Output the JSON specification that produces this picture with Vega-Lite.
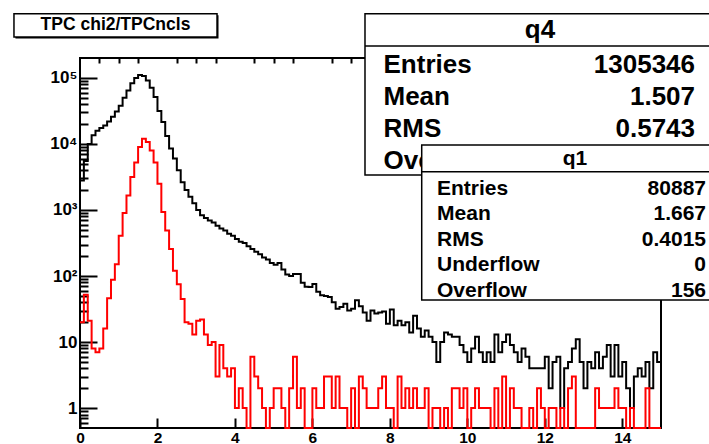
{
  "$schema": "https://vega.github.io/schema/vega-lite/v6.json",
  "width": 581,
  "height": 370,
  "autosize": {"type": "none"},
  "padding": {"left": 80, "top": 58, "right": 48, "bottom": 16},
  "background": "white",
  "config": {
    "view": {"stroke": "black", "strokeWidth": 2},
    "font": "Liberation Sans",
    "text": {"font": "Liberation Sans", "fontWeight": "bold", "color": "black"}
  },
  "layer": [
    {
      "data": {
        "values": [
          {"lo":0,"hi":0.1,"q4":2800,"q1":20},{"lo":0.1,"hi":0.2,"q4":5500,"q1":52},{"lo":0.2,"hi":0.3,"q4":10000,"q1":21},{"lo":0.3,"hi":0.4,"q4":13500,"q1":8},{"lo":0.4,"hi":0.5,"q4":15800,"q1":7},
          {"lo":0.5,"hi":0.6,"q4":17400,"q1":8},{"lo":0.6,"hi":0.7,"q4":19000,"q1":16},{"lo":0.7,"hi":0.8,"q4":21900,"q1":46},{"lo":0.8,"hi":0.9,"q4":25700,"q1":88},{"lo":0.9,"hi":1,"q4":30900,"q1":151},
          {"lo":1,"hi":1.1,"q4":38000,"q1":408},{"lo":1.1,"hi":1.2,"q4":50100,"q1":900},{"lo":1.2,"hi":1.3,"q4":64600,"q1":1660},{"lo":1.3,"hi":1.4,"q4":83200,"q1":3160},{"lo":1.4,"hi":1.5,"q4":100000,"q1":5250},
          {"lo":1.5,"hi":1.6,"q4":111000,"q1":9000},{"lo":1.6,"hi":1.7,"q4":107000,"q1":12000},{"lo":1.7,"hi":1.8,"q4":91200,"q1":10700},{"lo":1.8,"hi":1.9,"q4":70800,"q1":7940},{"lo":1.9,"hi":2,"q4":51300,"q1":5250},
          {"lo":2,"hi":2.1,"q4":31600,"q1":2500},{"lo":2.1,"hi":2.2,"q4":21400,"q1":930},{"lo":2.2,"hi":2.3,"q4":13200,"q1":490},{"lo":2.3,"hi":2.4,"q4":8510,"q1":257},{"lo":2.4,"hi":2.5,"q4":6030,"q1":120},
          {"lo":2.5,"hi":2.6,"q4":3980,"q1":75},{"lo":2.6,"hi":2.7,"q4":2630,"q1":45},{"lo":2.7,"hi":2.8,"q4":2000,"q1":20},{"lo":2.8,"hi":2.9,"q4":1580,"q1":19},{"lo":2.9,"hi":3,"q4":1260,"q1":13},
          {"lo":3,"hi":3.1,"q4":1000,"q1":21},{"lo":3.1,"hi":3.2,"q4":832,"q1":22},{"lo":3.2,"hi":3.3,"q4":759,"q1":13},{"lo":3.3,"hi":3.4,"q4":692,"q1":9},{"lo":3.4,"hi":3.5,"q4":646,"q1":10},
          {"lo":3.5,"hi":3.6,"q4":575,"q1":3},{"lo":3.6,"hi":3.7,"q4":525,"q1":9},{"lo":3.7,"hi":3.8,"q4":490,"q1":4},{"lo":3.8,"hi":3.9,"q4":437,"q1":3},{"lo":3.9,"hi":4,"q4":407,"q1":4},
          {"lo":4,"hi":4.1,"q4":363,"q1":1},{"lo":4.1,"hi":4.2,"q4":331,"q1":2},{"lo":4.2,"hi":4.3,"q4":316,"q1":1},{"lo":4.3,"hi":4.4,"q4":282,"q1":0},{"lo":4.4,"hi":4.5,"q4":257,"q1":6},
          {"lo":4.5,"hi":4.6,"q4":234,"q1":3},{"lo":4.6,"hi":4.7,"q4":214,"q1":2},{"lo":4.7,"hi":4.8,"q4":191,"q1":1},{"lo":4.8,"hi":4.9,"q4":178,"q1":0},{"lo":4.9,"hi":5,"q4":158,"q1":1},
          {"lo":5,"hi":5.1,"q4":148,"q1":2},{"lo":5.1,"hi":5.2,"q4":158,"q1":2},{"lo":5.2,"hi":5.3,"q4":126,"q1":1},{"lo":5.3,"hi":5.4,"q4":105,"q1":0},{"lo":5.4,"hi":5.5,"q4":100,"q1":2},
          {"lo":5.5,"hi":5.6,"q4":107,"q1":6},{"lo":5.6,"hi":5.7,"q4":107,"q1":1},{"lo":5.7,"hi":5.8,"q4":79,"q1":2},{"lo":5.8,"hi":5.9,"q4":69,"q1":0},{"lo":5.9,"hi":6,"q4":68,"q1":0},
          {"lo":6,"hi":6.1,"q4":76,"q1":2},{"lo":6.1,"hi":6.2,"q4":58,"q1":1},{"lo":6.2,"hi":6.3,"q4":51,"q1":1},{"lo":6.3,"hi":6.4,"q4":50,"q1":3},{"lo":6.4,"hi":6.5,"q4":48,"q1":3},
          {"lo":6.5,"hi":6.6,"q4":40,"q1":1},{"lo":6.6,"hi":6.7,"q4":32,"q1":3},{"lo":6.7,"hi":6.8,"q4":34,"q1":1},{"lo":6.8,"hi":6.9,"q4":38,"q1":1},{"lo":6.9,"hi":7,"q4":30,"q1":0},
          {"lo":7,"hi":7.1,"q4":32,"q1":2},{"lo":7.1,"hi":7.2,"q4":43,"q1":0},{"lo":7.2,"hi":7.3,"q4":35,"q1":3},{"lo":7.3,"hi":7.4,"q4":28,"q1":2},{"lo":7.4,"hi":7.5,"q4":21,"q1":1},
          {"lo":7.5,"hi":7.6,"q4":30,"q1":1},{"lo":7.6,"hi":7.7,"q4":27,"q1":1},{"lo":7.7,"hi":7.8,"q4":28,"q1":2},{"lo":7.8,"hi":7.9,"q4":29,"q1":3},{"lo":7.9,"hi":8,"q4":19,"q1":1},
          {"lo":8,"hi":8.1,"q4":31,"q1":1},{"lo":8.1,"hi":8.2,"q4":18,"q1":0},{"lo":8.2,"hi":8.3,"q4":21,"q1":3},{"lo":8.3,"hi":8.4,"q4":18,"q1":1},{"lo":8.4,"hi":8.5,"q4":20,"q1":2},
          {"lo":8.5,"hi":8.6,"q4":14,"q1":1},{"lo":8.6,"hi":8.7,"q4":25,"q1":2},{"lo":8.7,"hi":8.8,"q4":16,"q1":1},{"lo":8.8,"hi":8.9,"q4":12,"q1":1},{"lo":8.9,"hi":9,"q4":15,"q1":2},
          {"lo":9,"hi":9.1,"q4":12,"q1":0},{"lo":9.1,"hi":9.2,"q4":10,"q1":1},{"lo":9.2,"hi":9.3,"q4":5,"q1":1},{"lo":9.3,"hi":9.4,"q4":10,"q1":0},{"lo":9.4,"hi":9.5,"q4":14,"q1":1},
          {"lo":9.5,"hi":9.6,"q4":13,"q1":0},{"lo":9.6,"hi":9.7,"q4":12,"q1":2},{"lo":9.7,"hi":9.8,"q4":12,"q1":2},{"lo":9.8,"hi":9.9,"q4":9,"q1":1},{"lo":9.9,"hi":10,"q4":7,"q1":2},
          {"lo":10,"hi":10.1,"q4":5,"q1":0},{"lo":10.1,"hi":10.2,"q4":8,"q1":1},{"lo":10.2,"hi":10.3,"q4":12,"q1":2},{"lo":10.3,"hi":10.4,"q4":7,"q1":1},{"lo":10.4,"hi":10.5,"q4":5,"q1":1},
          {"lo":10.5,"hi":10.6,"q4":7,"q1":1},{"lo":10.6,"hi":10.7,"q4":5,"q1":0},{"lo":10.7,"hi":10.8,"q4":13,"q1":2},{"lo":10.8,"hi":10.9,"q4":7,"q1":0},{"lo":10.9,"hi":11,"q4":10,"q1":3},
          {"lo":11,"hi":11.1,"q4":13,"q1":0},{"lo":11.1,"hi":11.2,"q4":9,"q1":2},{"lo":11.2,"hi":11.3,"q4":7,"q1":1},{"lo":11.3,"hi":11.4,"q4":5,"q1":1},{"lo":11.4,"hi":11.5,"q4":8,"q1":0},
          {"lo":11.5,"hi":11.6,"q4":6,"q1":0},{"lo":11.6,"hi":11.7,"q4":4,"q1":1},{"lo":11.7,"hi":11.8,"q4":4,"q1":0},{"lo":11.8,"hi":11.9,"q4":4,"q1":2},{"lo":11.9,"hi":12,"q4":4,"q1":1},
          {"lo":12,"hi":12.1,"q4":6,"q1":0},{"lo":12.1,"hi":12.2,"q4":2,"q1":1},{"lo":12.2,"hi":12.3,"q4":5,"q1":1},{"lo":12.3,"hi":12.4,"q4":6,"q1":0},{"lo":12.4,"hi":12.5,"q4":1,"q1":1},
          {"lo":12.5,"hi":12.6,"q4":4,"q1":0},{"lo":12.6,"hi":12.7,"q4":5,"q1":2},{"lo":12.7,"hi":12.8,"q4":8,"q1":3},{"lo":12.8,"hi":12.9,"q4":11,"q1":0},{"lo":12.9,"hi":13,"q4":5,"q1":0},
          {"lo":13,"hi":13.1,"q4":2,"q1":0},{"lo":13.1,"hi":13.2,"q4":5,"q1":0},{"lo":13.2,"hi":13.3,"q4":4,"q1":0},{"lo":13.3,"hi":13.4,"q4":7,"q1":2},{"lo":13.4,"hi":13.5,"q4":4,"q1":1},
          {"lo":13.5,"hi":13.6,"q4":6,"q1":1},{"lo":13.6,"hi":13.7,"q4":9,"q1":1},{"lo":13.7,"hi":13.8,"q4":3,"q1":1},{"lo":13.8,"hi":13.9,"q4":9,"q1":2},{"lo":13.9,"hi":14,"q4":3,"q1":1},
          {"lo":14,"hi":14.1,"q4":5,"q1":1},{"lo":14.1,"hi":14.2,"q4":2,"q1":0},{"lo":14.2,"hi":14.3,"q4":1,"q1":1},{"lo":14.3,"hi":14.4,"q4":3,"q1":0},{"lo":14.4,"hi":14.5,"q4":4,"q1":0},
          {"lo":14.5,"hi":14.6,"q4":3,"q1":0},{"lo":14.6,"hi":14.7,"q4":5,"q1":2},{"lo":14.7,"hi":14.8,"q4":2,"q1":0},{"lo":14.8,"hi":14.9,"q4":7,"q1":0},{"lo":14.9,"hi":15,"q4":5,"q1":0}
        ]
      },
      "transform": [{"fold": ["lo", "hi"], "as": ["edge", "x"]}],
      "layer": [
        {
          "mark": {"type": "line", "color": "black", "strokeWidth": 2, "invalid": "show"},
          "encoding": {
            "x": {
              "field": "x", "type": "quantitative",
              "scale": {"domain": [0, 15], "nice": false, "zero": false},
              "axis": {
                "values": [0, 2, 4, 6, 8, 10, 12, 14],
                "title": null, "grid": false, "domain": false,
                "tickSize": -10, "tickWidth": 2, "tickColor": "black",
                "labelFont": "Liberation Sans", "labelFontWeight": "bold", "labelFontSize": 15.5,
                "labelColor": "black", "labelPadding": 12, "labelFlush": false, "labelOverlap": false
              }
            },
            "y": {
              "field": "q4", "type": "quantitative",
              "scale": {"type": "log", "domain": [0.5, 200000], "nice": false, "clamp": true},
              "axis": {
                "values": [1, 10, 100, 1000, 10000, 100000],
                "labelExpr": "datum.value < 5 ? '1 ' : datum.value < 50 ? '10 ' : '10' + ['', '', '²', '³', '⁴', '⁵'][round(log(datum.value) / LN10)]",
                "title": null, "grid": false, "domain": false,
                "tickSize": -17, "tickWidth": 2, "tickColor": "black",
                "labelFont": "Liberation Sans", "labelFontWeight": "bold", "labelFontSize": 17,
                "labelColor": "black", "labelPadding": 20, "labelBaseline": "middle", "labelFlush": false, "labelOverlap": false
              }
            },
            "order": [{"field": "x", "type": "quantitative"}, {"field": "edge", "type": "nominal"}]
          }
        },
        {
          "mark": {"type": "line", "color": "#ff0000", "strokeWidth": 2, "invalid": "show"},
          "encoding": {
            "x": {
              "field": "x", "type": "quantitative",
              "axis": {
                "values": [0.5, 1, 1.5, 2.5, 3, 3.5, 4.5, 5, 5.5, 6.5, 7, 7.5, 8.5, 9, 9.5, 10.5, 11, 11.5, 12.5, 13, 13.5, 14.5],
                "title": null, "grid": false, "domain": false, "labels": false,
                "tickSize": -5, "tickWidth": 2, "tickColor": "black"
              }
            },
            "y": {
              "field": "q1", "type": "quantitative",
              "axis": {
                "values": [0.6, 0.7, 0.8, 0.9, 2, 3, 4, 5, 6, 7, 8, 9, 20, 30, 40, 50, 60, 70, 80, 90, 200, 300, 400, 500, 600, 700, 800, 900, 2000, 3000, 4000, 5000, 6000, 7000, 8000, 9000, 20000, 30000, 40000, 50000, 60000, 70000, 80000, 90000],
                "orient": "left",
                "title": null, "grid": false, "domain": false, "labels": false,
                "tickSize": -8, "tickWidth": 2, "tickColor": "black"
              }
            },
            "order": [{"field": "x", "type": "quantitative"}, {"field": "edge", "type": "nominal"}]
          }
        }
      ],
      "resolve": {"axis": {"x": "independent", "y": "independent"}}
    },
    {
      "data": {"values": [{}]},
      "layer": [
        {
          "mark": {"type": "rect", "fill": "black"},
          "encoding": {
            "x": {"datum": 0.0218, "type": "quantitative", "scale": {"domain": [0.112835, 0.932299], "nice": false, "zero": false}, "axis": null},
            "x2": {"datum": 0.3082},
            "y": {"datum": 0.9657, "type": "quantitative", "scale": {"domain": [0.036036, 0.869369], "nice": false, "zero": false}, "axis": null},
            "y2": {"datum": 0.9133}
          }
        },
        {
          "mark": {"type": "rect", "fill": "white", "stroke": "black", "strokeWidth": 1.5},
          "encoding": {
            "x": {"datum": 0.0197, "type": "quantitative", "axis": null},
            "x2": {"datum": 0.3061},
            "y": {"datum": 0.9691, "type": "quantitative", "axis": null},
            "y2": {"datum": 0.9167}
          }
        },
        {
          "mark": {"type": "text", "text": "TPC chi2/TPCncls", "fontSize": 17.5, "align": "center", "baseline": "middle"},
          "encoding": {"x": {"datum": 0.1629, "type": "quantitative", "axis": null}, "y": {"datum": 0.943, "type": "quantitative", "axis": null}}
        },
        {
          "mark": {"type": "rect", "fill": "white", "stroke": "black", "strokeWidth": 1.5},
          "encoding": {"x": {"datum": 0.5148, "type": "quantitative", "axis": null}, "x2": {"datum": 1.06}, "y": {"datum": 0.9691, "type": "quantitative", "axis": null}, "y2": {"datum": 0.6059}}
        },
        {
          "mark": {"type": "rule", "stroke": "black", "strokeWidth": 1.5},
          "encoding": {"x": {"datum": 0.5148, "type": "quantitative", "axis": null}, "x2": {"datum": 1.06}, "y": {"datum": 0.8964, "type": "quantitative", "axis": null}}
        },
        {
          "mark": {"type": "text", "text": "q4", "fontSize": 26, "align": "center", "baseline": "middle"},
          "encoding": {"x": {"datum": 0.7616, "type": "quantitative", "axis": null}, "y": {"datum": 0.9324, "type": "quantitative", "axis": null}}
        },
        {
          "mark": {"type": "text", "text": ["Entries", "Mean", "RMS", "Overflow"], "fontSize": 26, "lineHeight": 32, "align": "left", "baseline": "alphabetic"},
          "encoding": {"x": {"datum": 0.5409, "type": "quantitative", "axis": null}, "y": {"datum": 0.8363, "type": "quantitative", "axis": null}}
        },
        {
          "mark": {"type": "text", "text": ["1305346", "1.507", "0.5743"], "fontSize": 26, "lineHeight": 32, "align": "right", "baseline": "alphabetic"},
          "encoding": {"x": {"datum": 0.9803, "type": "quantitative", "axis": null}, "y": {"datum": 0.8363, "type": "quantitative", "axis": null}}
        },
        {
          "mark": {"type": "rect", "fill": "white", "stroke": "black", "strokeWidth": 1.5},
          "encoding": {"x": {"datum": 0.5948, "type": "quantitative", "axis": null}, "x2": {"datum": 1.06}, "y": {"datum": 0.6734, "type": "quantitative", "axis": null}, "y2": {"datum": 0.3243}}
        },
        {
          "mark": {"type": "rule", "stroke": "black", "strokeWidth": 1.5},
          "encoding": {"x": {"datum": 0.5948, "type": "quantitative", "axis": null}, "x2": {"datum": 1.06}, "y": {"datum": 0.6133, "type": "quantitative", "axis": null}}
        },
        {
          "mark": {"type": "text", "text": "q1", "fontSize": 21, "align": "center", "baseline": "middle"},
          "encoding": {"x": {"datum": 0.811, "type": "quantitative", "axis": null}, "y": {"datum": 0.643, "type": "quantitative", "axis": null}}
        },
        {
          "mark": {"type": "text", "text": ["Entries", "Mean", "RMS", "Underflow", "Overflow"], "fontSize": 21, "lineHeight": 25.4, "align": "left", "baseline": "alphabetic"},
          "encoding": {"x": {"datum": 0.6164, "type": "quantitative", "axis": null}, "y": {"datum": 0.5608, "type": "quantitative", "axis": null}}
        },
        {
          "mark": {"type": "text", "text": ["80887", "1.667", "0.4015", "0", "156"], "fontSize": 21, "lineHeight": 25.4, "align": "right", "baseline": "alphabetic"},
          "encoding": {"x": {"datum": 0.9958, "type": "quantitative", "axis": null}, "y": {"datum": 0.5608, "type": "quantitative", "axis": null}}
        }
      ]
    }
  ],
  "resolve": {"scale": {"x": "independent", "y": "independent"}, "axis": {"x": "independent", "y": "independent"}}
}
